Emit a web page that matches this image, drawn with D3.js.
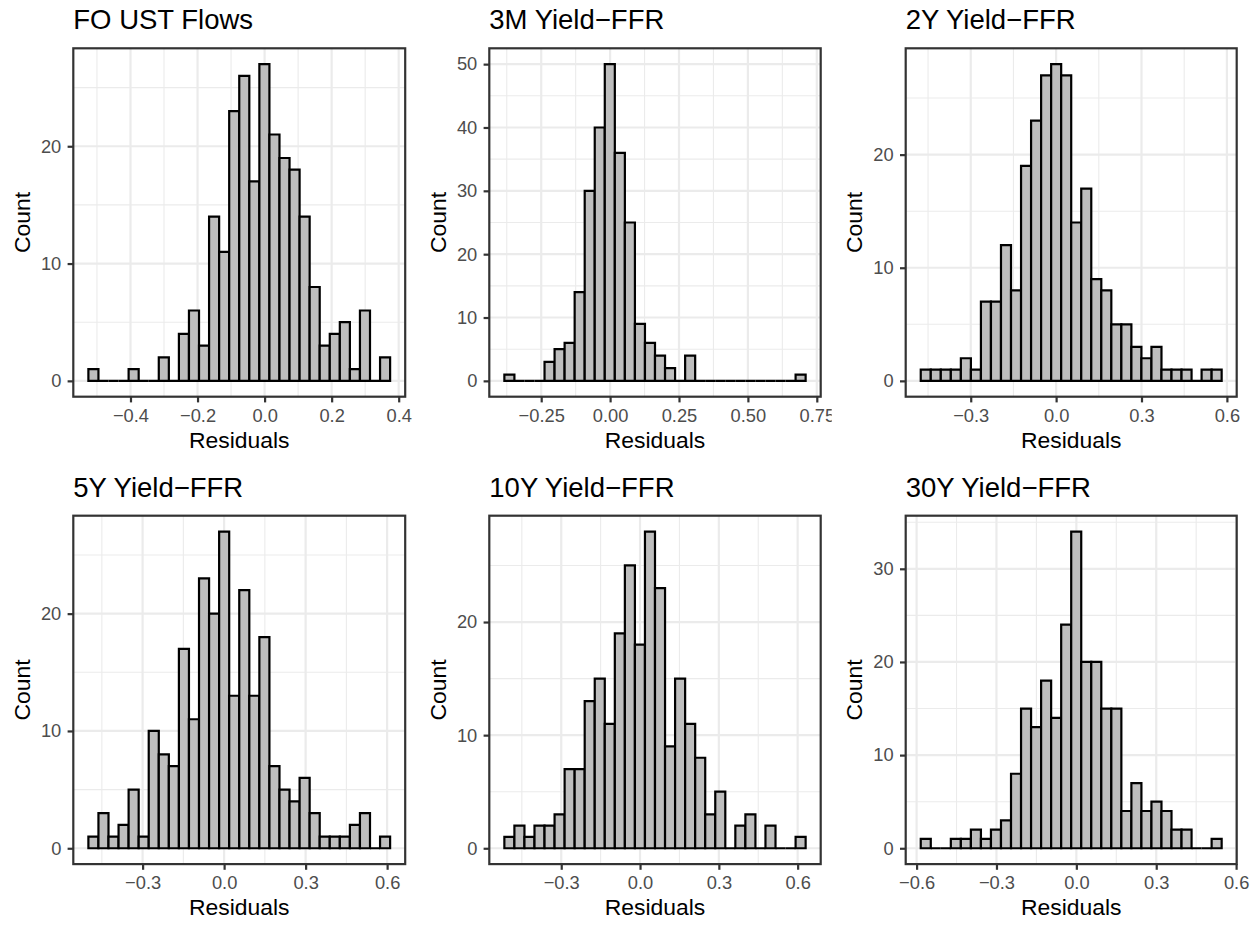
<!DOCTYPE html>
<html>
<head>
<meta charset="utf-8">
<script src="https://cdn.jsdelivr.net/npm/d3@7"></script>
<style>
  html, body { margin: 0; padding: 0; background: #ffffff; }
  svg { display: block; }
</style>
</head>
<body>
<div id="chart"></div>
<script>
// ---------------- data ----------------
const titles = ["FO UST Flows", "3M Yield\u2212FFR", "2Y Yield\u2212FFR",
                "5Y Yield\u2212FFR", "10Y Yield\u2212FFR", "30Y Yield\u2212FFR"];

// left edge of first bin and bin width (30 bins per panel)
const binStart = [-0.5256, -0.3837, -0.4756, -0.4996, -0.5165, -0.5844];
const binWidth = [0.0300, 0.03644, 0.03524, 0.03702, 0.03823, 0.03767];

const countsFO  = [1,0,0,0,1,0,0,2,0,4,6,3,14,11,23,26,17,27,21,19,18,14,8,3,4,5,1,6,0,2];
const counts3M  = [1,0,0,0,3,5,6,14,30,40,50,36,25,9,6,4,2,0,4,0,0,0,0,0,0,0,0,0,0,1];
const counts2Y  = [1,1,1,1,2,1,7,7,12,8,19,23,27,28,27,14,17,9,8,5,5,3,2,3,1,1,1,0,1,1];
const counts5Y  = [1,3,1,2,5,1,10,8,7,17,11,23,20,27,13,22,13,18,7,5,4,6,3,1,1,1,2,3,0,1];
const counts10Y = [1,2,1,2,2,3,7,7,13,15,11,19,25,18,28,23,9,15,11,8,3,5,0,2,3,0,2,0,0,1];
const counts30Y = [1,0,0,1,1,2,1,2,3,8,15,13,18,14,24,34,20,20,15,15,4,7,4,5,4,2,2,0,0,1];
const allCounts = [countsFO, counts3M, counts2Y, counts5Y, counts10Y, counts30Y];

const xTicksA = [-0.4, -0.2, 0, 0.2, 0.4];
const xLabelsA = ["\u22120.4", "\u22120.2", "0.0", "0.2", "0.4"];
const xMinorA = [-0.5, -0.3, -0.1, 0.1, 0.3];
const xTicksB = [-0.25, 0, 0.25, 0.5, 0.75];
const xLabelsB = ["\u22120.25", "0.00", "0.25", "0.50", "0.75"];
const xMinorB = [-0.375, -0.125, 0.125, 0.375, 0.625];
const xTicksC = [-0.3, 0, 0.3, 0.6];
const xLabelsC = ["\u22120.3", "0.0", "0.3", "0.6"];
const xMinorC = [-0.45, -0.15, 0.15, 0.45];
const xTicksD = [-0.6, -0.3, 0, 0.3, 0.6];
const xLabelsD = ["\u22120.6", "\u22120.3", "0.0", "0.3", "0.6"];

const xTicks  = [xTicksA, xTicksB, xTicksC, xTicksC, xTicksC, xTicksD];
const xLabels = [xLabelsA, xLabelsB, xLabelsC, xLabelsC, xLabelsC, xLabelsD];
const xMinor  = [xMinorA, xMinorB, xMinorC, xMinorC, xMinorC, xMinorC];

const yTicks = [[0,10,20], [0,10,20,30,40,50], [0,10,20], [0,10,20], [0,10,20], [0,10,20,30]];
const yMinor = [[5,15,25], [5,15,25,35,45], [5,15,25], [5,15,25], [5,15,25], [5,15,25,35]];

const xAxisTitle = "Residuals";
const yAxisTitle = "Count";

// ---------------- layout ----------------
const W = 1260, H = 925;
const colLeft  = [73.3, 489.3, 905.7];
const colRight = [405.2, 820.7, 1236.7];
const rowTop = [48.3, 515.7];
const panelH = 348.4;
const clipRight = [1260, 831.7, 1260];

const FONT = "'Liberation Sans', Arial, Helvetica, sans-serif";
const GRID = "#EBEBEB", DARK = "#333333", TICKTXT = "#4D4D4D";

const svg = d3.select("#chart").append("svg")
  .attr("width", W).attr("height", H)
  .attr("viewBox", `0 0 ${W} ${H}`);
svg.append("rect").attr("width", W).attr("height", H).attr("fill", "#ffffff");

const defs = svg.append("defs");

allCounts.forEach((counts, p) => {
  const col = p % 3, row = Math.floor(p / 3);
  const L = colLeft[col], R = colRight[col], T = rowTop[row], B = T + panelH;

  const bins = counts.map((c, i) => ({
    x0: binStart[p] + i * binWidth[p],
    x1: binStart[p] + (i + 1) * binWidth[p],
    c: c
  }));
  const lo = bins[0].x0, hi = bins[bins.length - 1].x1;
  const padX = (hi - lo) * 0.05;
  const maxC = d3.max(counts);

  const x = d3.scaleLinear().domain([lo - padX, hi + padX]).range([L, R]);
  const y = d3.scaleLinear().domain([-0.05 * maxC, 1.05 * maxC]).range([B, T]);

  const clipId = "clip" + p;
  defs.append("clipPath").attr("id", clipId)
    .append("rect").attr("x", 0).attr("y", 0).attr("width", clipRight[col]).attr("height", H);

  const g = svg.append("g").attr("clip-path", `url(#${clipId})`);

  // minor grid
  g.selectAll(".vminor").data(xMinor[p]).enter().append("line")
    .attr("x1", d => x(d)).attr("x2", d => x(d)).attr("y1", T).attr("y2", B)
    .attr("stroke", GRID).attr("stroke-width", 1.1);
  g.selectAll(".hminor").data(yMinor[p]).enter().append("line")
    .attr("y1", d => y(d)).attr("y2", d => y(d)).attr("x1", L).attr("x2", R)
    .attr("stroke", GRID).attr("stroke-width", 1.1);
  // major grid
  g.selectAll(".vmajor").data(xTicks[p]).enter().append("line")
    .attr("x1", d => x(d)).attr("x2", d => x(d)).attr("y1", T).attr("y2", B)
    .attr("stroke", GRID).attr("stroke-width", 2.2);
  g.selectAll(".hmajor").data(yTicks[p]).enter().append("line")
    .attr("y1", d => y(d)).attr("y2", d => y(d)).attr("x1", L).attr("x2", R)
    .attr("stroke", GRID).attr("stroke-width", 2.2);

  // bars (paths so zero-height bins still draw their baseline)
  g.selectAll(".bar").data(bins).enter().append("path")
    .attr("d", d => `M${x(d.x0)},${y(0)}H${x(d.x1)}V${y(d.c)}H${x(d.x0)}Z`)
    .attr("fill", "#BEBEBE").attr("stroke", "#000000").attr("stroke-width", 2.2)
    .attr("stroke-linejoin", "miter");

  // panel border
  g.append("rect").attr("x", L).attr("y", T).attr("width", R - L).attr("height", panelH)
    .attr("fill", "none").attr("stroke", DARK).attr("stroke-width", 2.2);

  // x axis
  const xa = g.append("g").attr("transform", `translate(0,${B})`)
    .call(d3.axisBottom(x).tickValues(xTicks[p])
      .tickFormat((d, i) => xLabels[p][i]).tickSize(5.7).tickPadding(6.3));
  // y axis
  const ya = g.append("g").attr("transform", `translate(${L},0)`)
    .call(d3.axisLeft(y).tickValues(yTicks[p]).tickFormat(d3.format("d"))
      .tickSize(5.7).tickPadding(6.3));
  [xa, ya].forEach(a => {
    a.select(".domain").remove();
    a.selectAll(".tick line").attr("stroke", DARK).attr("stroke-width", 2.2);
    a.selectAll(".tick text").attr("fill", TICKTXT)
      .attr("font-family", FONT).attr("font-size", 18.3);
  });

  // title
  g.append("text").attr("x", L).attr("y", T - 19)
    .attr("font-family", FONT).attr("font-size", 27.5).attr("fill", "#000")
    .text(titles[p]);
  // x axis title
  g.append("text").attr("x", (L + R) / 2).attr("y", B + 51.3)
    .attr("text-anchor", "middle")
    .attr("font-family", FONT).attr("font-size", 22.9).attr("fill", "#000")
    .text(xAxisTitle);
  // y axis title
  g.append("text")
    .attr("transform", `translate(${L - 43.3},${(T + B) / 2}) rotate(-90)`)
    .attr("text-anchor", "middle")
    .attr("font-family", FONT).attr("font-size", 22.9).attr("fill", "#000")
    .text(yAxisTitle);
});
</script>
</body>
</html>
